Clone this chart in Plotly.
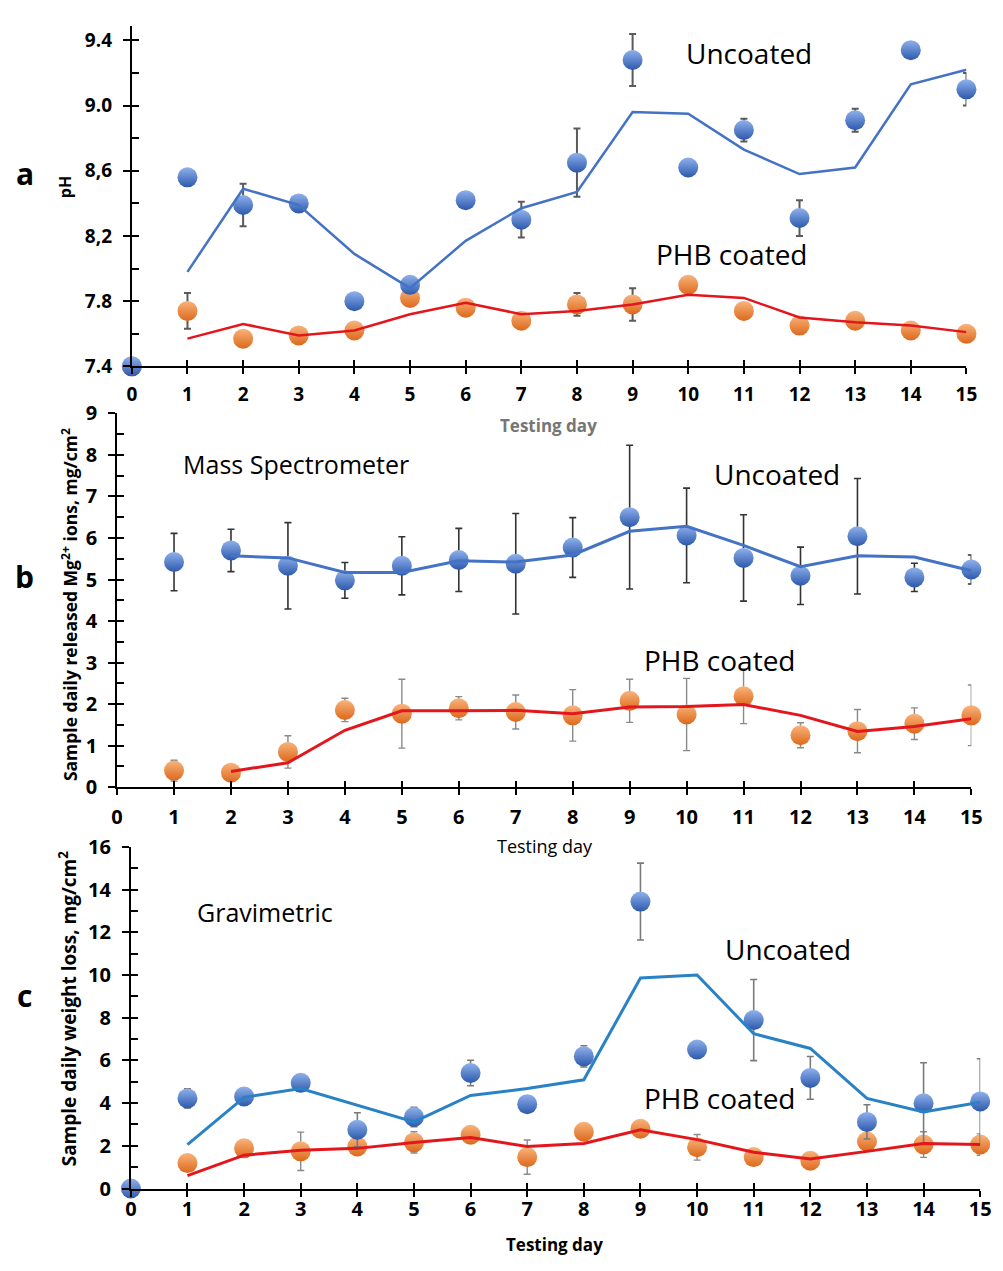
import plotly.graph_objects as go

W, H = 1003, 1271
FONT = "Open Sans"

# ---------------- data ----------------
days = list(range(0, 16))
days_1 = list(range(1, 16))
days_2 = list(range(2, 16))

# Panel a: pH
ph_uncoated = [7.40, 8.56, 8.39, 8.40, 7.80, 7.90, 8.42, 8.30, 8.65, 9.28, 8.62, 8.85, 8.31, 8.91, 9.34, 9.10]
ph_uncoated_err = [0, 0, 0.13, 0, 0, 0, 0, 0.11, 0.21, 0.16, 0, 0.07, 0.11, 0.07, 0.03, 0.10]
ph_coated = [7.40, 7.74, 7.57, 7.59, 7.62, 7.82, 7.76, 7.68, 7.78, 7.78, 7.90, 7.74, 7.65, 7.68, 7.62, 7.60]
ph_coated_err = [0, 0.11, 0, 0, 0, 0, 0, 0, 0.07, 0.10, 0.02, 0, 0, 0, 0, 0]
ph_uncoated_trend = [7.98, 8.49, 8.39, 8.09, 7.88, 8.17, 8.37, 8.47, 8.96, 8.95, 8.73, 8.58, 8.62, 9.13, 9.22]
ph_coated_trend = [7.57, 7.66, 7.59, 7.62, 7.72, 7.79, 7.72, 7.74, 7.78, 7.84, 7.82, 7.70, 7.67, 7.65, 7.61]
ph_tickvals = [7.4, 7.8, 8.2, 8.6, 9.0, 9.4]
ph_ticktext = ["7.4", "7.8", "8,2", "8,6", "9.0", "9.4"]
ph_minor = [7.4, 7.6, 7.8, 8.0, 8.2, 8.4, 8.6, 8.8, 9.0, 9.2, 9.4]

# Panel b: Mg2+ released (mass spectrometer), days 1..15
mg_uncoated = [5.42, 5.70, 5.33, 4.98, 5.33, 5.47, 5.38, 5.77, 6.50, 6.06, 5.52, 5.09, 6.04, 5.05, 5.24]
mg_uncoated_err = [0.69, 0.51, 1.04, 0.43, 0.70, 0.76, 1.21, 0.72, 1.73, 1.14, 1.04, 0.69, 1.39, 0.34, 0.35]
mg_coated = [0.40, 0.35, 0.85, 1.86, 1.77, 1.90, 1.81, 1.73, 2.08, 1.75, 2.19, 1.25, 1.35, 1.53, 1.73]
mg_coated_err = [0.25, 0.05, 0.39, 0.28, 0.83, 0.28, 0.41, 0.62, 0.52, 0.87, 0.66, 0.30, 0.52, 0.38, 0.73]
mg_uncoated_trend = [5.57, 5.52, 5.17, 5.17, 5.45, 5.42, 5.59, 6.16, 6.28, 5.82, 5.31, 5.57, 5.54, 5.21]
mg_coated_trend = [0.38, 0.59, 1.37, 1.84, 1.84, 1.85, 1.77, 1.93, 1.94, 1.99, 1.73, 1.34, 1.46, 1.65]
mg_tickvals = [0, 1, 2, 3, 4, 5, 6, 7, 8, 9]
mg_minor = [i * 0.5 for i in range(19)]

# Panel c: gravimetric weight loss
wl_uncoated = [0, 4.22, 4.31, 4.95, 2.75, 3.35, 5.41, 3.95, 6.19, 13.44, 6.51, 7.89, 5.18, 3.12, 3.99, 4.08]
wl_uncoated_err = [0, 0.45, 0, 0.2, 0.8, 0.45, 0.6, 0, 0.5, 1.8, 0, 1.9, 1.0, 0.8, 1.9, 2.0]
wl_coated = [1.19, 1.88, 1.74, 1.97, 2.16, 2.52, 1.47, 2.66, 2.80, 1.93, 1.47, 1.30, 2.20, 2.06, 2.06]
wl_coated_err = [0, 0, 0.9, 0.4, 0.5, 0.3, 0.8, 0, 0, 0.6, 0, 0, 0, 0.6, 0.5]
wl_uncoated_trend = [2.06, 4.27, 4.68, 3.90, 3.12, 4.36, 4.68, 5.09, 9.86, 10.00, 7.25, 6.56, 4.22, 3.58, 4.04]
wl_coated_trend = [0.60, 1.56, 1.79, 1.88, 2.16, 2.39, 1.97, 2.11, 2.75, 2.29, 1.70, 1.38, 1.74, 2.11, 2.06]
wl_tickvals = [0, 2, 4, 6, 8, 10, 12, 14, 16]
wl_minor = list(range(17))

# ---------------- styling ----------------
BLUE_TOP, BLUE_BOT = "#8fb1ec", "#2d59ac"
ORANGE_TOP, ORANGE_BOT = "#f8b47c", "#dd681b"
BLUE_LINE = "#4472c4"
BLUE_LINE_C = "#2a82c6"
RED_LINE = "#e3161c"
MS = 20

fig = go.Figure()


def markers(x, y, err, xa, ya, top, bot, errcolor, thick):
    fig.add_trace(go.Scatter(
        x=x, y=y, mode="markers", xaxis=xa, yaxis=ya, cliponaxis=False,
        marker=dict(size=MS, color=top, gradient=dict(type="vertical", color=bot),
                    line=dict(width=0)),
        error_y=dict(type="data", array=err, visible=True, color=errcolor,
                     thickness=thick, width=3.5),
        showlegend=False, hoverinfo="x+y"))


def trend(x, y, xa, ya, color, width):
    fig.add_trace(go.Scatter(
        x=x, y=y, mode="lines", xaxis=xa, yaxis=ya, cliponaxis=False,
        line=dict(color=color, width=width), showlegend=False))


# Panel a
markers(days, ph_coated, ph_coated_err, "x", "y", ORANGE_TOP, ORANGE_BOT, "#5a5a5a", 2)
markers(days, ph_uncoated, ph_uncoated_err, "x", "y", BLUE_TOP, BLUE_BOT, "#5a5a5a", 2)
trend(days_1, ph_uncoated_trend, "x", "y", BLUE_LINE, 2.5)
trend(days_1, ph_coated_trend, "x", "y", RED_LINE, 2.5)

# Panel b
markers(days_1, mg_uncoated, mg_uncoated_err, "x2", "y2", BLUE_TOP, BLUE_BOT, "#333333", 1.6)
markers(days_1, mg_coated, mg_coated_err, "x2", "y2", ORANGE_TOP, ORANGE_BOT, "#8a8a8a", 1.4)
trend(days_2, mg_uncoated_trend, "x2", "y2", BLUE_LINE, 3)
trend(days_2, mg_coated_trend, "x2", "y2", RED_LINE, 3)

# Panel c
markers(days_1, wl_coated, wl_coated_err, "x3", "y3", ORANGE_TOP, ORANGE_BOT, "#8a8a8a", 1.4)
markers(days, wl_uncoated, wl_uncoated_err, "x3", "y3", BLUE_TOP, BLUE_BOT, "#7a7a7a", 1.6)
trend(days_1, wl_uncoated_trend, "x3", "y3", BLUE_LINE_C, 3)
trend(days_1, wl_coated_trend, "x3", "y3", RED_LINE, 3)


def px_x(p):
    return p / W


def px_y(p):
    return 1 - p / H


panels = [
    # suffix, overlay suffix, x px, y px, y range, tick vals, tick text, minor ticks, font size, x label standoff
    ("", "4", (128, 977), (12, 360), [7.4, 9.49], ph_tickvals, ph_ticktext, ph_minor, 19, 4),
    ("2", "5", (113, 982), (408, 790), [0, 9], mg_tickvals, [str(v) for v in mg_tickvals], mg_minor, 20, 5),
    ("3", "6", (127, 991), (851, 1200), [0, 16], wl_tickvals, [str(v) for v in wl_tickvals], wl_minor, 20, -5),
]

layout_axes = {}
for suf, osuf, (xl, xr), (yt, yb), yr, ytv, ytt, ymin, fs, xso in panels:
    xid, yid = "x" + suf, "y" + suf
    xo, yo = "x" + osuf, "y" + osuf
    tf = dict(family=FONT, size=fs, color="black", weight="bold")
    layout_axes["xaxis" + suf] = dict(
        domain=[px_x(xl), px_x(xr)], range=[0, 15], anchor=yid,
        showline=True, linecolor="black", linewidth=2,
        ticks="outside", ticklen=6, tickwidth=2, tickcolor="black",
        tickvals=days, tickfont=tf, ticklabelstandoff=xso,
        showgrid=False, zeroline=False)
    layout_axes["xaxis" + osuf] = dict(
        overlaying=xid, anchor=yo, range=[0, 15], side="bottom",
        ticks="inside", ticklen=6, tickwidth=2, tickcolor="black",
        tickvals=days, showticklabels=False, showline=False,
        showgrid=False, zeroline=False)
    layout_axes["yaxis" + suf] = dict(
        domain=[px_y(yb), px_y(yt)], range=yr, anchor=xid,
        showline=True, linecolor="black", linewidth=2,
        ticks="outside", ticklen=7, tickwidth=2, tickcolor="black",
        tickvals=ytv, ticktext=ytt, tickfont=tf, ticklabelstandoff=7,
        showgrid=False, zeroline=False)
    layout_axes["yaxis" + osuf] = dict(
        overlaying=yid, anchor=xo, range=yr, side="left",
        ticks="inside", ticklen=7, tickwidth=2, tickcolor="black",
        tickvals=ymin, showticklabels=False, showline=False,
        showgrid=False, zeroline=False)
    # empty trace so the overlay (inside-tick) axes get drawn
    fig.add_trace(go.Scatter(x=[None], y=[None], xaxis=xo, yaxis=yo,
                             mode="markers", showlegend=False, hoverinfo="skip"))

annotations = []


def ann_px(text, x, y, size, bold=False, color="black", angle=0, xanchor="center"):
    annotations.append(dict(
        text=text, x=px_x(x), y=px_y(y), xref="paper", yref="paper",
        xanchor=xanchor, yanchor="middle", showarrow=False, textangle=angle,
        font=dict(family=FONT, size=size, color=color,
                  weight="bold" if bold else "normal")))


def ann_data(text, x, y, xr, yr, size, xanchor="center"):
    annotations.append(dict(
        text=text, x=x, y=y, xref=xr, yref=yr, xanchor=xanchor, yanchor="middle",
        showarrow=False, font=dict(family=FONT, size=size, color="black")))


# panel letters
ann_px("a", 19, 163, 30, bold=True)
ann_px("b", 19, 575, 30, bold=True)
ann_px("c", 19, 1003, 30, bold=True)

# axis titles
ann_px("pH", 60, 177, 16, bold=True, angle=-90)
ann_px("Testing day", 552, 420, 17, bold=True, color="#767676")
ann_px("Sample daily released Mg<sup>2+</sup> ions, mg/cm<sup>2</sup>", 64, 603, 17.5, bold=True, angle=-90)
ann_px("Testing day", 548, 850, 18)
ann_px("Sample daily weight loss, mg/cm<sup>2</sup>", 64, 1016, 19, bold=True, angle=-90)
ann_px("Testing day", 558, 1257, 17, bold=True)

# in-plot labels
ann_data("Uncoated", 11.1, 9.32, "x", "y", 28)
ann_data("PHB coated", 10.78, 8.09, "x", "y", 28)
ann_data("Mass Spectrometer", 1.12, 7.78, "x2", "y2", 25, xanchor="left")
ann_data("Uncoated", 11.58, 7.55, "x2", "y2", 28)
ann_data("PHB coated", 10.58, 3.07, "x2", "y2", 28)
ann_data("Gravimetric", 1.13, 12.94, "x3", "y3", 25, xanchor="left")
ann_data("Uncoated", 11.6, 11.24, "x3", "y3", 28)
ann_data("PHB coated", 10.4, 4.22, "x3", "y3", 28)

fig.update_layout(
    width=W, height=H, margin=dict(l=0, r=0, t=0, b=0),
    paper_bgcolor="white", plot_bgcolor="white",
    showlegend=False, annotations=annotations,
    font=dict(family=FONT, color="black"),
    **layout_axes)

fig.write_html("out.html")
